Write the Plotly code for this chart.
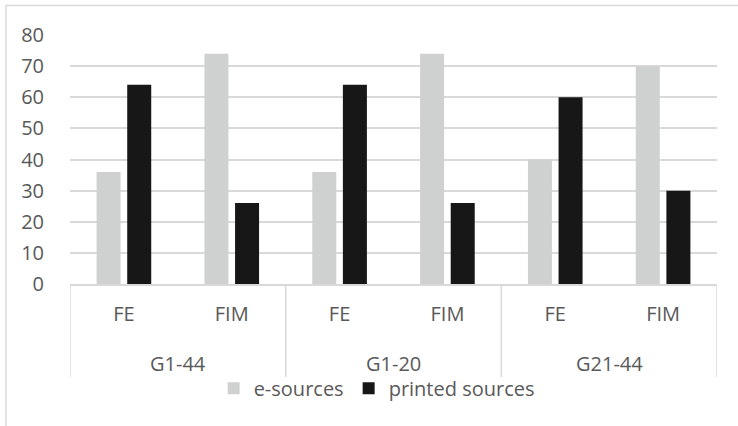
import plotly.graph_objects as go

groups = ["G1-44", "G1-20", "G21-44"]
subgroups = ["FE", "FIM", "FE", "FIM", "FE", "FIM"]
e_sources = [36, 74, 36, 74, 40, 70]
printed_sources = [64, 26, 64, 26, 60, 30]

W, H = 738, 426
L, R, T, B = 70, 21, 35, 142
plot_h = H - T - B
plot_w = W - L - R

text_color = "#595959"
grid_color = "#d9d9d9"
font_family = "Open Sans, Noto Sans, sans-serif"
fs = 20

# one slot per bar pair, two slots per group
pos = list(range(len(subgroups)))
per_group = len(subgroups) // len(groups)
group_centers = [g * per_group + (per_group - 1) / 2 for g in range(len(groups))]
group_edges = [g * per_group - 0.5 for g in range(len(groups) + 1)]

fig = go.Figure()
fig.add_trace(go.Bar(x=pos, y=e_sources, name="e-sources",
                     marker=dict(color="#cfd1d0", line=dict(width=0))))
fig.add_trace(go.Bar(x=pos, y=printed_sources, name="printed sources",
                     marker=dict(color="#171717", line=dict(width=0))))

# group dividers hanging below the category axis
divider_len = 93 / plot_h
shapes = [dict(type="line", xref="x", yref="paper", x0=e, x1=e, y0=0, y1=-divider_len,
               line=dict(color=grid_color, width=1.5)) for e in group_edges]
# chart frame
shapes.append(dict(type="rect", xref="paper", yref="paper",
                   x0=-(L - 6) / plot_w, x1=1 + (R + 10) / plot_w,
                   y0=-(B + 10) / plot_h, y1=1 + (T - 5.5) / plot_h,
                   line=dict(color=grid_color, width=1.5), layer="below"))

# outer level of the category axis
group_labels = [dict(text=g, x=c, xref="x", y=-79 / plot_h, yref="paper",
                     xanchor="center", yanchor="middle", showarrow=False,
                     font=dict(size=fs, color=text_color))
                for g, c in zip(groups, group_centers)]

fig.update_layout(
    width=W, height=H,
    margin=dict(l=L, r=R, t=T, b=B, pad=0),
    paper_bgcolor="white", plot_bgcolor="white",
    font=dict(family=font_family, size=fs, color=text_color),
    barmode="group", bargap=0.432, bargroupgap=0.216,
    showlegend=True,
    legend=dict(orientation="h", x=0.222, xanchor="left", y=-0.34, yanchor="top",
                font=dict(size=fs, color=text_color), itemwidth=30,
                traceorder="normal", bgcolor="rgba(0,0,0,0)"),
    shapes=shapes,
    annotations=group_labels,
)

fig.update_yaxes(range=[0, 80], dtick=10, showgrid=True, gridcolor=grid_color,
                 gridwidth=1.5, zeroline=False, showline=False,
                 ticks="outside", ticklen=21, tickcolor="rgba(0,0,0,0)",
                 tickfont=dict(size=fs, color=text_color))
fig.update_xaxes(range=[-0.5, len(subgroups) - 0.5], tickmode="array",
                 tickvals=pos, ticktext=subgroups, showgrid=False,
                 zeroline=False, showline=True, linecolor=grid_color,
                 linewidth=1.5, ticks="", ticklabelstandoff=11,
                 tickfont=dict(size=fs, color=text_color))

fig.write_html("out.html")
